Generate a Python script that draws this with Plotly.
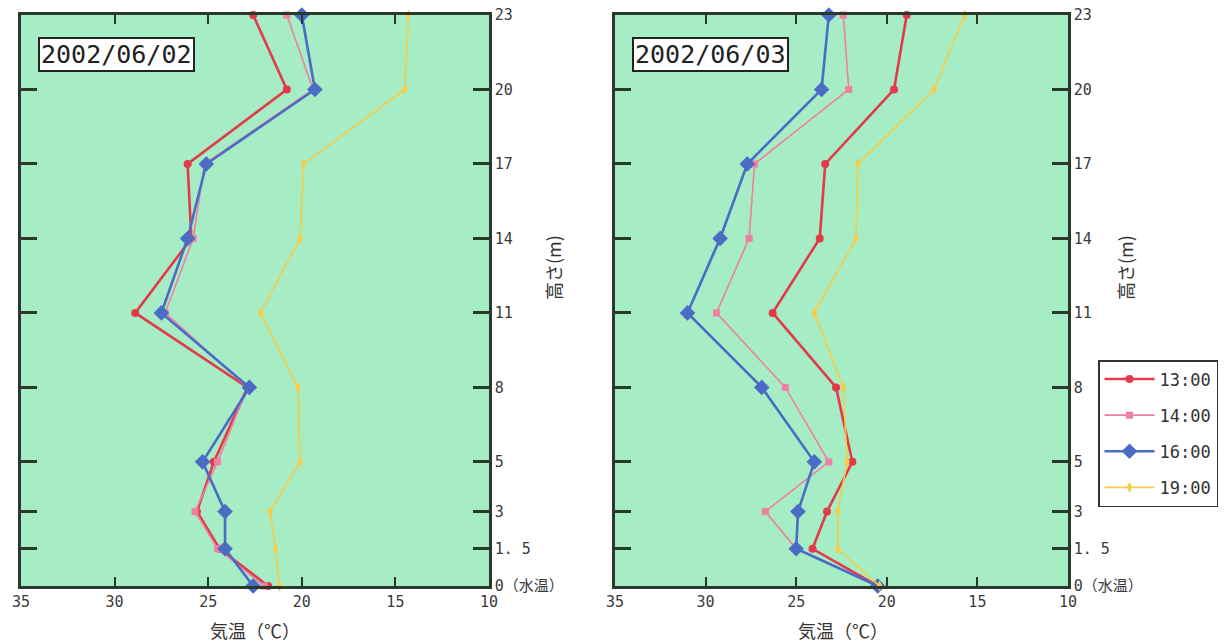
import plotly.graph_objects as go

heights = [0, 1.5, 3, 5, 8, 11, 14, 17, 20, 23]
height_labels = ["0（水温）", "1. 5", "3", "5", "8", "11", "14", "17", "20", "23"]
x_ticks = [35, 30, 25, 20, 15, 10]
times = ["13:00", "14:00", "16:00", "19:00"]
dates = ["2002/06/02", "2002/06/03"]

# 2002/06/02
d1_1300 = [21.8, 24.4, 25.6, 24.7, 22.9, 28.9, 25.9, 26.1, 20.8, 22.6]
d1_1400 = [22.0, 24.5, 25.7, 24.5, 22.9, 27.3, 25.8, 25.2, 19.4, 20.8]
d1_1600 = [22.6, 24.1, 24.1, 25.3, 22.8, 27.5, 26.1, 25.1, 19.3, 20.0]
d1_1900 = [21.2, 21.4, 21.7, 20.1, 20.2, 22.2, 20.1, 19.9, 14.5, 14.3]

# 2002/06/03
d2_1300 = [20.5, 24.1, 23.3, 21.9, 22.8, 26.3, 23.7, 23.4, 19.6, 18.9]
d2_1400 = [20.5, 25.0, 26.7, 23.2, 25.6, 29.4, 27.6, 27.3, 22.1, 22.4]
d2_1600 = [20.5, 25.0, 24.9, 24.0, 26.9, 31.0, 29.2, 27.7, 23.6, 23.2]
d2_1900 = [20.4, 22.7, 22.7, 22.2, 22.4, 24.0, 21.7, 21.6, 17.4, 15.7]

styles = {
    "13:00": dict(color="#e23a48", width=2.6, symbol="circle", size=8),
    "14:00": dict(color="#f07fa2", width=1.6, symbol="square", size=7),
    "16:00": dict(color="#4a6cc4", width=2.6, symbol="diamond", size=12),
    "19:00": dict(color="#f8cc48", width=1.6, symbol="diamond-tall", size=8),
}

W, H = 1226, 643
def px_x(p): return p / W
def px_y(p): return 1 - p / H

fig = go.Figure()
panels = [
    ([d1_1300, d1_1400, d1_1600, d1_1900], "x", "y", False),
    ([d2_1300, d2_1400, d2_1600, d2_1900], "x2", "y2", True),
]
for series, xa, ya, showleg in panels:
    for t, vals in zip(times, series):
        s = styles[t]
        fig.add_trace(go.Scatter(
            x=vals, y=heights, xaxis=xa, yaxis=ya, mode="lines+markers",
            name=t, legendgroup=t, showlegend=showleg, cliponaxis=False,
            line=dict(color=s["color"], width=s["width"]),
            marker=dict(symbol=s["symbol"], size=s["size"], color=s["color"]),
        ))

bg = "#a6ecc4"
mono = "DejaVu Sans Mono, Noto Sans CJK JP, monospace"
cjk = "Noto Sans CJK JP, DejaVu Sans, sans-serif"
tickfont = dict(family=mono, size=15, color="#3a3a3a")

common_x = dict(range=[35, 10], tickvals=x_ticks, ticktext=[str(v) for v in x_ticks],
                ticks="inside", ticklen=9, tickwidth=2, tickcolor="#2a3a2a",
                showline=True, linecolor="#2a3a2a", linewidth=2.5, mirror="ticks",
                showgrid=False, zeroline=False, tickfont=tickfont, fixedrange=True,
                automargin=False, ticklabeloverflow="allow")
common_y = dict(range=[0, 23], tickvals=heights, ticktext=height_labels,
                ticks="inside", ticklen=16, tickwidth=2.5, tickcolor="#2a3a2a",
                showline=True, linecolor="#2a3a2a", linewidth=2.5, mirror="ticks",
                showgrid=False, zeroline=False, side="right", tickfont=tickfont,
                fixedrange=True, automargin=False, ticklabeloverflow="allow")

ydom = [px_y(586), px_y(15)]
fig.update_layout(
    width=W, height=H,
    margin=dict(l=0, r=0, t=0, b=0, autoexpand=False),
    paper_bgcolor="white",
    plot_bgcolor=bg,
    xaxis=dict(domain=[px_x(21), px_x(489)], anchor="y", **common_x),
    yaxis=dict(domain=ydom, anchor="x", **common_y),
    xaxis2=dict(domain=[px_x(615), px_x(1068)], anchor="y2", **common_x),
    yaxis2=dict(domain=ydom, anchor="x2", ticklabelstandoff=0, **common_y),
    legend=dict(x=px_x(1098), y=px_y(360), xanchor="left", yanchor="top",
                bgcolor="white", bordercolor="#333333", borderwidth=1.5,
                font=dict(family=mono, size=17, color="#333333"),
                tracegroupgap=11, itemwidth=50),
    showlegend=True,
)

annotations = []
for date, xl in zip(dates, [38, 632]):
    annotations.append(dict(
        text=date, x=px_x(xl), y=px_y(37), xref="paper", yref="paper",
        xanchor="left", yanchor="top", showarrow=False,
        font=dict(family=mono, size=25, color="#222222"),
        bgcolor="white", bordercolor="#222222", borderwidth=2, borderpad=1,
    ))
for xc in [255, 843]:
    annotations.append(dict(
        text="気温（℃）", x=px_x(xc), y=px_y(630), xref="paper", yref="paper",
        xanchor="center", yanchor="middle", showarrow=False,
        font=dict(family=cjk, size=18, color="#333333"),
    ))
for xc in [553, 1125]:
    annotations.append(dict(
        text="高さ(m)", x=px_x(xc), y=px_y(268), xref="paper", yref="paper",
        xanchor="center", yanchor="middle", showarrow=False, textangle=-90,
        font=dict(family=cjk, size=18, color="#333333"),
    ))
fig.update_layout(annotations=annotations)

fig.write_html("out.html", config={"displayModeBar": False},
               post_script="document.body.style.margin='0px';document.body.style.padding='0px';")
